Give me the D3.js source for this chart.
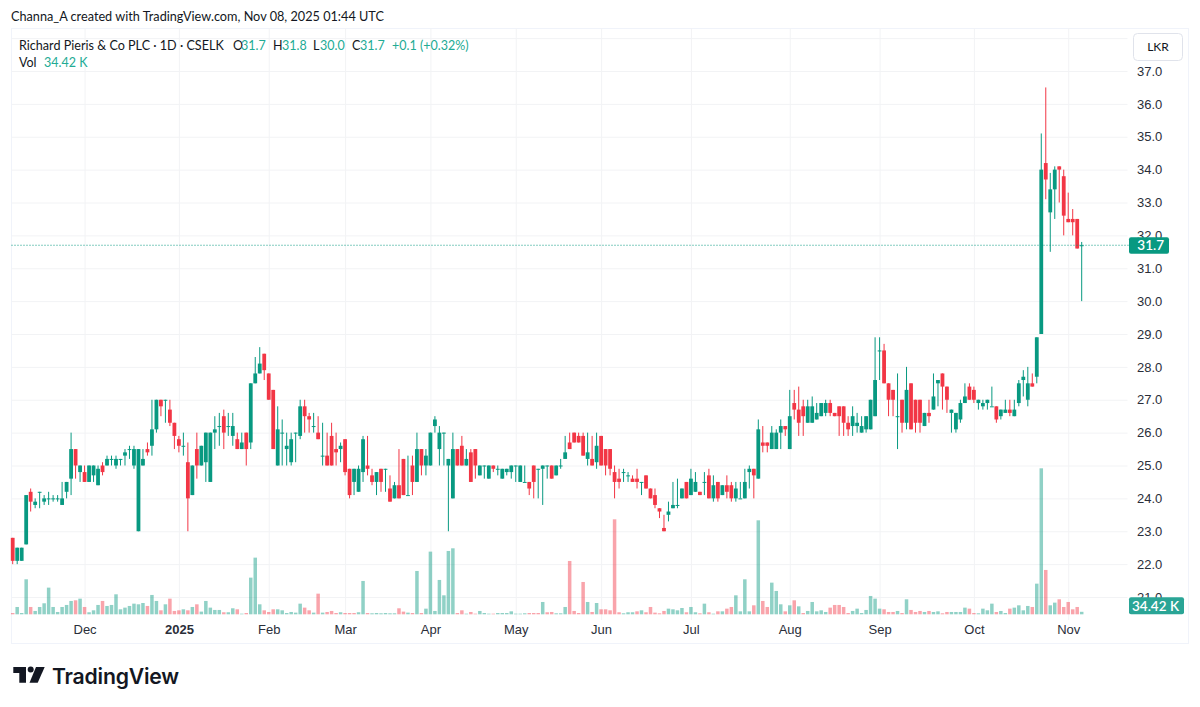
<!DOCTYPE html>
<html>
<head>
<meta charset="utf-8">
<script src="https://cdn.jsdelivr.net/npm/d3@7"></script>
<style>
body { margin: 0; background: #fff; }
svg { display: block; font-family: Lato, "Noto Sans", sans-serif; }
</style>
</head>
<body>
<div class="canvas"></div>
<script>
// daily candles, index 0 = first bar on the left
const openPrices = [
  22.8,22.1,22.1,22.6,24.2,23.8,24.2,23.9,24.0,24.0,
  24.0,23.8,24.2,24.6,25.5,24.8,24.8,24.5,24.7,24.4,
  25.0,25.0,25.2,25.0,25.2,25.3,25.5,25.0,23.0,25.0,
  25.5,25.6,26.1,27.0,27.0,26.7,26.3,25.8,25.6,25.1,
  24.1,25.5,25.0,25.1,24.5,26.0,26.2,26.5,26.2,25.9,
  25.8,25.5,26.0,25.7,27.5,27.8,28.4,27.8,27.3,25.0,
  26.0,25.5,25.1,26.0,25.9,26.8,26.5,26.2,26.0,25.3,
  25.3,25.9,25.5,25.5,25.8,24.9,24.5,24.2,24.8,25.0,
  24.7,24.5,24.9,24.9,24.3,24.0,24.4,25.2,24.1,25.0,
  24.5,25.5,25.0,25.0,26.2,25.5,26.0,25.0,24.0,25.5,
  25.6,25.0,25.4,25.5,24.7,25.0,24.6,25.0,24.9,24.6,
  24.8,24.8,25.0,24.5,24.5,24.5,25.0,24.9,24.9,25.0,
  25.0,24.7,25.0,25.2,25.7,26.0,25.9,25.9,25.2,25.2,
  25.1,25.9,25.5,25.5,24.8,24.6,24.8,24.7,24.6,24.6,
  24.5,24.7,24.3,24.1,23.7,23.1,23.5,23.7,23.8,24.0,
  24.5,24.1,24.2,24.2,24.5,24.7,24.0,24.5,24.1,24.4,
  24.4,24.0,24.0,24.0,24.8,24.9,24.6,25.7,25.7,25.5,
  25.5,26.0,26.2,25.5,26.9,26.7,26.8,26.3,26.3,26.4,
  26.5,26.6,26.9,26.6,26.8,26.8,26.3,26.2,26.2,26.0,
  26.1,26.1,26.5,28.5,28.5,27.5,27.3,26.5,27.0,26.3,
  27.5,27.0,27.0,26.2,26.6,26.7,27.5,27.8,27.4,26.6,
  26.1,26.4,26.9,27.4,27.3,26.9,26.8,26.9,26.8,26.8,
  26.5,26.6,26.7,26.5,26.9,27.6,27.0,27.5,27.7,29.0,
  34.2,32.7,33.4,34.1,33.8,32.5,32.5,32.5,31.7
]
const highPrices = [
  22.8,22.5,22.5,24.1,24.3,24.0,24.2,24.1,24.2,24.1,
  24.1,24.5,24.5,26.0,25.5,25.0,25.0,25.0,25.0,25.0,
  25.1,25.3,25.3,25.3,25.2,25.5,25.6,25.6,25.5,25.5,
  25.7,27.0,27.0,27.0,27.0,27.0,26.3,25.9,26.0,25.7,
  25.0,26.0,25.6,26.0,26.0,26.5,26.6,26.7,26.6,26.6,
  26.0,26.0,26.0,27.5,28.3,28.6,28.4,27.8,27.3,26.8,
  26.4,26.0,26.0,26.0,27.0,27.0,26.6,26.6,26.5,26.3,
  26.0,26.3,26.0,25.7,25.8,24.9,24.9,25.0,25.9,25.9,
  24.9,24.8,24.9,24.9,24.7,24.5,25.5,25.2,25.3,25.3,
  26.0,25.5,25.5,26.0,26.5,26.2,26.0,25.2,26.0,25.5,
  25.9,25.5,25.5,25.5,25.0,25.0,25.0,25.0,25.0,24.9,
  24.9,25.0,25.0,25.0,25.0,24.5,25.0,24.9,25.0,25.0,
  25.0,25.0,25.2,25.9,26.0,26.0,26.0,26.0,26.0,25.9,
  26.0,25.9,25.5,25.5,25.0,24.9,24.9,24.8,24.7,24.9,
  24.5,24.7,24.3,24.3,23.7,23.5,23.9,24.5,24.6,24.3,
  24.5,24.9,24.8,24.2,24.8,24.9,24.7,24.5,24.4,24.7,
  24.5,24.5,24.5,24.9,25.0,24.9,26.4,26.2,25.7,26.2,
  26.1,26.4,26.2,27.3,27.3,27.4,27.0,27.0,27.1,26.9,
  26.9,27.0,27.0,26.6,26.8,26.8,26.5,26.8,26.6,26.5,
  26.5,27.0,28.9,28.9,28.7,27.5,27.3,27.8,27.0,28.0,
  27.5,27.0,27.0,26.6,27.0,27.8,27.6,27.8,27.4,26.7,
  26.6,27.0,27.5,27.5,27.4,27.0,27.0,27.0,27.4,26.8,
  26.7,27.0,27.0,27.0,27.6,27.9,28.0,27.8,28.9,35.1,
  36.5,33.9,34.1,34.1,34.0,33.3,32.8,32.5,31.8
]
const lowPrices = [
  22.0,22.0,22.1,22.6,23.6,23.7,23.7,23.8,23.8,23.9,
  23.9,23.8,24.0,24.1,24.6,24.5,24.5,24.5,24.5,24.4,
  24.7,25.0,25.0,24.9,25.0,25.0,25.2,24.9,23.0,25.0,
  25.3,25.3,26.0,26.5,26.3,26.2,25.5,25.4,25.3,23.0,
  24.1,24.6,25.0,24.5,24.5,25.5,25.6,25.5,25.9,25.6,
  25.5,25.5,25.0,25.5,27.5,27.8,27.6,27.0,25.5,25.0,
  25.0,25.0,25.0,25.1,25.8,26.0,26.0,26.0,25.8,25.0,
  25.0,25.0,25.0,25.1,24.7,24.0,24.1,24.2,24.5,24.7,
  24.4,24.1,24.2,24.2,23.9,24.0,24.0,24.1,24.1,24.1,
  24.5,24.7,24.7,25.0,26.0,25.0,25.0,23.0,24.0,25.0,
  25.0,25.0,24.5,24.6,24.7,24.6,24.6,24.8,24.7,24.6,
  24.7,24.6,24.5,24.5,24.5,24.1,24.0,24.0,23.8,24.6,
  24.6,24.7,24.9,25.2,25.5,25.7,25.7,25.3,25.0,25.0,
  24.9,25.0,24.7,24.7,24.0,24.3,24.5,24.5,24.5,24.3,
  24.1,24.3,24.0,23.7,23.4,23.0,23.3,23.7,23.7,24.0,
  24.0,24.1,24.2,24.1,24.1,24.0,23.9,23.9,24.1,24.0,
  23.9,23.9,24.0,24.0,24.3,24.0,24.6,25.4,25.4,25.5,
  25.5,25.5,25.9,25.5,26.4,25.9,25.9,26.3,26.3,26.4,
  26.5,26.5,26.5,26.5,25.9,25.9,25.9,25.9,26.0,26.0,
  26.0,26.1,26.5,27.6,27.5,26.5,26.5,25.5,26.0,26.1,
  26.1,26.0,26.0,26.2,26.3,26.7,26.8,26.7,26.6,26.0,
  26.0,26.3,26.9,27.0,26.9,26.7,26.7,26.7,26.8,26.3,
  26.4,26.6,26.5,26.5,26.8,27.1,26.8,27.4,27.5,29.0,
  33.1,31.5,32.5,33.0,32.0,32.4,32.0,31.6,30.0
]
const closePrices = [
  22.1,22.5,22.5,24.1,23.9,23.9,24.2,24.0,24.0,24.0,
  24.0,24.0,24.5,25.5,25.0,25.0,24.5,25.0,25.0,24.9,
  24.8,25.2,25.2,25.2,25.2,25.4,25.5,25.5,25.5,25.2,
  25.4,26.1,27.0,26.8,27.0,26.3,25.9,25.6,25.6,24.0,
  25.0,25.0,25.6,26.0,26.0,26.1,26.2,26.0,26.2,26.2,
  25.5,25.7,25.5,27.5,27.8,28.1,27.9,27.0,25.5,26.1,
  26.0,25.6,25.8,26.0,26.8,26.5,26.4,26.2,25.8,25.3,
  25.0,25.0,25.4,25.6,24.8,24.1,24.9,24.9,25.8,24.9,
  24.5,24.8,24.5,24.9,23.9,24.4,24.0,24.1,24.1,24.5,
  25.5,25.0,25.3,26.0,26.4,26.0,26.0,25.2,25.5,25.0,
  25.0,25.2,24.5,25.0,25.0,25.0,25.0,24.9,24.9,24.9,
  24.9,25.0,25.0,25.0,24.5,24.3,24.5,24.9,25.0,25.0,
  24.6,25.0,25.0,25.4,25.5,25.7,25.7,25.3,25.4,25.0,
  25.6,25.0,25.0,24.9,24.5,24.5,24.8,24.7,24.5,24.5,
  24.5,24.3,24.0,23.8,23.6,23.0,23.6,23.8,23.8,24.3,
  24.0,24.6,24.5,24.1,24.5,24.0,24.4,24.0,24.4,24.2,
  24.0,24.3,24.0,24.5,24.9,24.7,26.1,25.6,25.6,26.0,
  26.0,26.2,26.1,26.5,26.7,26.3,26.5,26.8,26.8,26.6,
  26.9,26.9,26.6,26.5,26.5,26.3,26.1,26.5,26.3,26.2,
  26.5,27.0,27.6,28.5,27.5,27.0,27.0,26.5,26.3,27.3,
  26.1,26.3,26.3,26.6,26.5,27.1,27.6,27.4,27.0,26.7,
  26.6,26.9,27.1,27.0,27.0,27.0,26.9,27.0,26.8,26.4,
  26.7,26.7,26.6,26.7,27.5,27.7,27.5,27.4,28.9,34.0,
  33.7,33.4,34.0,34.0,32.6,32.4,32.4,31.6,31.7
]
// volume in thousands
const volumes = [
  18,101,18,483,101,46,101,152,368,101,
  32,101,129,184,193,216,101,28,55,129,
  184,115,129,276,69,92,115,147,138,156,
  115,267,184,55,138,216,46,55,69,55,
  101,138,37,184,92,60,60,28,28,83,
  69,9,18,506,782,138,55,32,69,69,
  55,18,32,23,147,92,55,23,285,23,
  32,46,18,28,18,18,18,28,460,18,
  14,18,14,18,14,14,83,37,23,18,
  598,18,78,865,46,474,262,874,911,18,
  55,9,32,9,46,18,9,9,18,18,
  18,41,9,9,14,18,18,18,170,28,
  32,14,14,101,736,46,18,446,170,32,
  156,69,69,55,1311,28,14,28,28,41,
  55,28,101,23,14,46,78,69,55,87,
  28,101,28,14,147,28,9,41,41,78,
  101,262,41,483,41,124,1297,184,101,437,
  322,138,41,124,193,110,18,46,170,41,
  55,32,92,129,129,101,18,46,78,18,
  60,253,216,78,69,32,32,46,18,207,
  60,32,46,32,46,32,41,14,32,32,
  32,32,92,78,18,14,78,55,147,32,
  46,18,78,92,124,55,115,101,423,2015,
  612,124,161,207,101,170,69,101,34.42
]
// u = green volume bar, d = red volume bar
const volumeSides = [
  "duuuduuuuu","uuuududuuu","duuuuuuuuu","duududddud","uduuuuuduu",
  "duduuudddu","uuuuuddudu","ddduddduud","uuuuuuddud","uduuuuuuud",
  "dudduuuduu","uuuuudddud","duuuddddud","uddddduuud","uddddduuuu",
  "duudududud","duuuududdu","uudududuuu","uuddddduuu","uuuudddudu",
  "ddduduuddu","uuudduuuud","uuduuuuduu","duudddddu"
].join("").split("")
const priceTicks = [21,22,23,24,25,26,27,28,29,30,31,32,33,34,35,36,37]
const gridTicks = [21,22,23,24,25,26,27,28,29,30,31,32,33,34,35,36,37,38]
const timeLabels = ["Dec","2025","Feb","Mar","Apr","May","Jun","Jul","Aug","Sep","Oct","Nov"]
const timeBars = [16,37,57,74,93,112,131,151,173,193,214,235]
const lastPrice = 31.7
const lastVolume = 34.42

const upColor = "#089981"
const downColor = "#f23645"
const gridColor = "#f2f3f5"
const textColor = "#131722"

const width = 1200
const height = 707

const svg = d3.select(".canvas").append("svg")
    .attr("width", width)
    .attr("height", height)

// scales were fitted to the gridlines and bar spacing in the picture
const x = d3.scaleLinear().domain([0, 238]).range([12.7, 1081.7])
const y = d3.scaleLinear().domain([37, 21]).range([71, 597])
const yVol = d3.scaleLinear().domain([0, 2015]).range([614.3, 468.3])
const bars = d3.range(openPrices.length)

// pane border
svg.append("rect")
    .attr("x", 11.5).attr("y", 28.5)
    .attr("width", 1177).attr("height", 615)
    .attr("fill", "none")
    .attr("stroke", "#f0f3fa")

// gridlines
const yGrid = svg.append("g")
    .attr("transform", "translate(11.5,0)")
    .call(d3.axisRight(y).tickValues(gridTicks).tickSize(1116).tickFormat(""))
yGrid.select(".domain").remove()
yGrid.selectAll("line").attr("stroke", gridColor)

const xGrid = svg.append("g")
    .attr("transform", "translate(0,620)")
    .call(d3.axisBottom(x).tickValues(timeBars).tickSize(-592)
        .tickFormat((d, i) => timeLabels[i]))
xGrid.select(".domain").remove()
xGrid.selectAll("line").attr("stroke", gridColor)
xGrid.selectAll("text")
    .attr("y", 10)
    .attr("dy", "0.32em")
    .attr("fill", "#2a2e39")
    .style("font-size", "13px")
    .style("font-weight", d => d == 37 ? 700 : 400)

// price labels
const yAxis = svg.append("g")
    .attr("transform", "translate(1131,0)")
    .call(d3.axisRight(y).tickValues(priceTicks).tickSize(0).tickPadding(6)
        .tickFormat(d3.format(".1f")))
yAxis.select(".domain").remove()
yAxis.selectAll("text")
    .attr("fill", "#2a2e39")
    .style("font-size", "13px")

// volume
svg.append("g").selectAll("rect")
    .data(bars)
    .enter()
    .append("rect")
    .attr("x", d => x(d) - 1.75)
    .attr("width", 3.5)
    .attr("y", d => yVol(volumes[d]))
    .attr("height", d => yVol(0) - yVol(volumes[d]))
    .attr("fill", d => volumeSides[d] == "u" ? upColor : downColor)
    .attr("opacity", 0.45)

// candles
const candleColor = d => closePrices[d] >= openPrices[d] ? upColor : downColor
const candles = svg.append("g")

candles.selectAll("line")
    .data(bars)
    .enter()
    .append("line")
    .attr("x1", d => x(d))
    .attr("x2", d => x(d))
    .attr("y1", d => y(highPrices[d]))
    .attr("y2", d => y(lowPrices[d]))
    .attr("stroke", candleColor)
    .attr("stroke-width", 1)

candles.selectAll("rect")
    .data(bars)
    .enter()
    .append("rect")
    .attr("x", d => x(d) - 1.9)
    .attr("width", 3.8)
    .attr("y", d => y(Math.max(openPrices[d], closePrices[d])))
    .attr("height", d => Math.max(1, Math.abs(y(openPrices[d]) - y(closePrices[d]))))
    .attr("fill", candleColor)

// last price line and tags
svg.append("line")
    .attr("x1", 11.5).attr("x2", 1129)
    .attr("y1", y(lastPrice)).attr("y2", y(lastPrice))
    .attr("stroke", upColor)
    .attr("stroke-dasharray", "1 2")

const tags = [
    { top: y(lastPrice) - 8, w: 40, h: 16.5, fill: upColor, label: d3.format(".1f")(lastPrice) },
    { top: yVol(0) - 17, w: 55, h: 17, fill: "#2aa596", label: lastVolume + " K" }
]
const tag = svg.append("g").selectAll("g")
    .data(tags)
    .enter()
    .append("g")
    .attr("transform", d => `translate(1129,${d.top})`)
tag.append("rect")
    .attr("width", d => d.w)
    .attr("height", d => d.h)
    .attr("rx", 2)
    .attr("fill", d => d.fill)
tag.append("text")
    .attr("x", d => d.w - 5)
    .attr("y", d => d.h / 2)
    .attr("dy", "0.35em")
    .attr("text-anchor", "end")
    .attr("fill", "#fff")
    .style("font-size", "13.5px")
    .style("font-weight", 600)
    .text(d => d.label)

// currency button
svg.append("rect")
    .attr("x", 1133.5).attr("y", 33.5)
    .attr("width", 49).attr("height", 27)
    .attr("rx", 4)
    .attr("fill", "#fff")
    .attr("stroke", "#e0e3eb")
svg.append("text")
    .attr("x", 1158).attr("y", 51)
    .attr("text-anchor", "middle")
    .attr("fill", textColor)
    .style("font-size", "12px")
    .text("LKR")

// header texts
const addText = (txt, px, py, color, size) => svg.append("text")
    .attr("x", px).attr("y", py)
    .attr("fill", color)
    .style("font-size", (size || 13) + "px")
    .text(txt)

addText("Channa_A created with TradingView.com, Nov 08, 2025 01:44 UTC", 11, 21, textColor, 12.7)
addText("Richard Pieris & Co PLC · 1D · CSELK", 19, 50, textColor, 12.6)
addText("O", 233, 50, textColor, 12.5)
addText("31.7", 241, 50, "#22ab94", 12.5)
addText("H", 273, 50, textColor, 12.5)
addText("31.8", 282, 50, "#22ab94", 12.5)
addText("L", 313, 50, textColor, 12.5)
addText("30.0", 320, 50, "#22ab94", 12.5)
addText("C", 352, 50, textColor, 12.5)
addText("31.7", 360, 50, "#22ab94", 12.5)
addText("+0.1 (+0.32%)", 392, 50, "#22ab94", 12.5)
addText("Vol", 19, 67, textColor, 12.5)
addText("34.42 K", 44, 67, "#22ab94", 12.5)

// logo
const logo = svg.append("g").attr("fill", "#131722")
logo.append("path").attr("d", "M13.3 667H26V682.7H19.3V673H13.3Z")
logo.append("circle").attr("cx", 30.7).attr("cy", 669.5).attr("r", 3)
logo.append("path").attr("d", "M36 667H44.7L37.7 682.7H29.5Z")
logo.append("text")
    .attr("x", 52).attr("y", 684)
    .style("font-family", "Inter, sans-serif")
    .style("font-size", "21.2px")
    .style("font-weight", 600)
    .style("letter-spacing", "-0.2px")
    .text("TradingView")
</script>
</body>
</html>
